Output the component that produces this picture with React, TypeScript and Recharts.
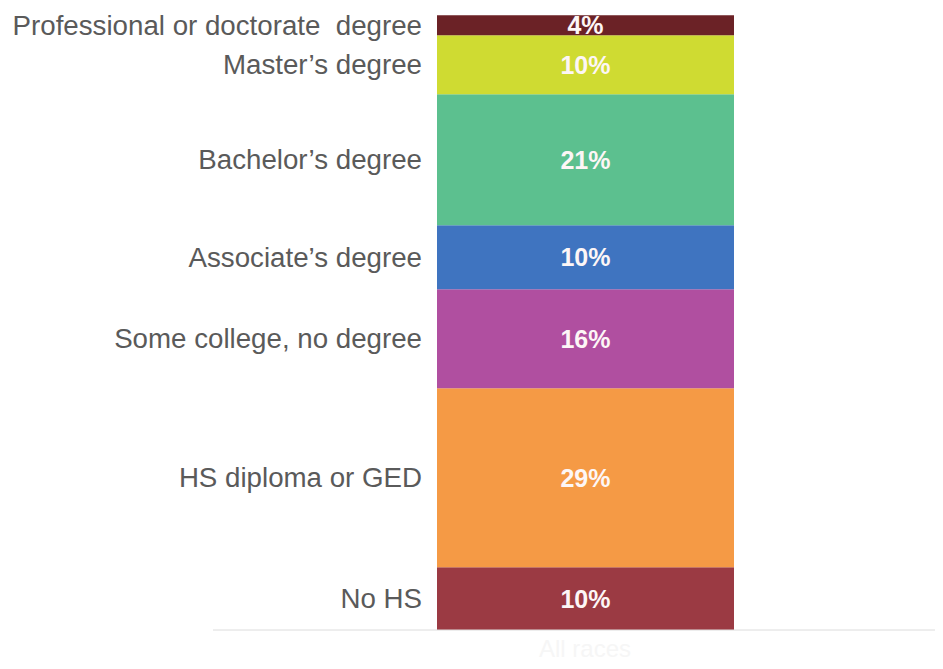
import React from "react";
import { BarChart, Bar, XAxis, YAxis, LabelList } from "recharts";

// bottom to top of the stack
const levels = [
  "No HS",
  "HS diploma or GED",
  "Some college, no degree",
  "Associate’s degree",
  "Bachelor’s degree",
  "Master’s degree",
  "Professional or doctorate  degree",
];
const shares = [10.2, 29.1, 16.1, 10.4, 21.3, 9.6, 3.25];
const shareLabels = ["10%", "29%", "16%", "10%", "21%", "10%", "4%"];
const COLORS = [
  "#9b3a43",
  "#f59a45",
  "#b04fa0",
  "#3f74c0",
  "#5cc08f",
  "#cfdb32",
  "#6b2226",
];
const groups = ["All races"];

const row: Record<string, string | number> = { group: groups[0] };
levels.forEach((lvl, i) => {
  row[`k${i}`] = shares[i];
});
const chartData = [row];

const FONT = "'Liberation Sans', Arial, sans-serif";

function sideLabel(name: string) {
  return (props: any) => {
    const vb = props.viewBox || props;
    const { x, y, height } = vb;
    return (
      <text
        x={x - 15}
        y={y + height / 2}
        textAnchor="end"
        dominantBaseline="central"
        fill="#5a5a5a"
        fontSize={27.7}
        fontFamily={FONT}
        style={{ whiteSpace: "pre" }}
      >
        {name}
      </text>
    );
  };
}

function innerLabel(text: string) {
  return (props: any) => {
    const vb = props.viewBox || props;
    const { x, y, width, height } = vb;
    return (
      <text
        x={x + width / 2}
        y={y + height / 2}
        textAnchor="middle"
        dominantBaseline="central"
        fill="#fdf6f6"
        fontSize={25}
        fontWeight="bold"
        fontFamily={FONT}
      >
        {text}
      </text>
    );
  };
}

export default function App() {
  return (
    <BarChart
      width={935}
      height={661}
      data={chartData}
      margin={{ top: 7, right: 0, bottom: 9, left: 205 }}
    >
      <XAxis
        dataKey="group"
        padding={{ left: 14, right: 0 }}
        height={30}
        tickLine={false}
        axisLine={{ stroke: "#dcdcdc" }}
        tick={{ fill: "#f6f6f6", fontSize: 24, fontFamily: FONT, dy: 2 }}
      />
      <YAxis hide domain={[0, 100]} />
      {levels.map((lvl, i) => (
        <Bar
          key={lvl}
          dataKey={`k${i}`}
          stackId="a"
          fill={COLORS[i]}
          barSize={297}
          isAnimationActive={false}
        >
          <LabelList dataKey={`k${i}`} content={sideLabel(lvl)} />
          <LabelList dataKey={`k${i}`} content={innerLabel(shareLabels[i])} />
        </Bar>
      ))}
    </BarChart>
  );
}
